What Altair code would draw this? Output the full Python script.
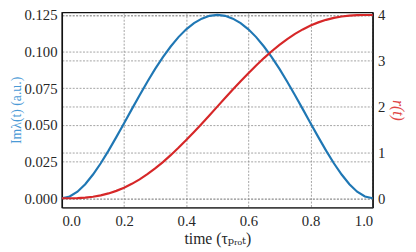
import altair as alt
import pandas as pd

t_vals = [0.000, 0.025, 0.050, 0.075, 0.100, 0.125, 0.150, 0.175, 0.200, 0.225,
          0.250, 0.275, 0.300, 0.325, 0.350, 0.375, 0.400, 0.425, 0.450, 0.475,
          0.500, 0.525, 0.550, 0.575, 0.600, 0.625, 0.650, 0.675, 0.700, 0.725,
          0.750, 0.775, 0.800, 0.825, 0.850, 0.875, 0.900, 0.925, 0.950, 0.975,
          1.000]

im_lambda = [0.0000, 0.0012, 0.0045, 0.0096, 0.0162, 0.0239, 0.0325, 0.0417, 0.0512, 0.0608,
             0.0703, 0.0795, 0.0882, 0.0963, 0.1035, 0.1099, 0.1152, 0.1194, 0.1225, 0.1244,
             0.1250, 0.1244, 0.1225, 0.1194, 0.1152, 0.1099, 0.1035, 0.0963, 0.0882, 0.0795,
             0.0703, 0.0608, 0.0512, 0.0417, 0.0325, 0.0239, 0.0162, 0.0096, 0.0045, 0.0012,
             0.0000]

r_vals = [0.0000, 0.0006, 0.0046, 0.0150, 0.0342, 0.0642, 0.1064, 0.1620, 0.2317, 0.3157,
          0.4141, 0.5265, 0.6523, 0.7907, 0.9407, 1.1008, 1.2698, 1.4459, 1.6275, 1.8128,
          2.0000, 2.1872, 2.3725, 2.5541, 2.7302, 2.8992, 3.0593, 3.2093, 3.3477, 3.4735,
          3.5859, 3.6843, 3.7683, 3.8380, 3.8936, 3.9358, 3.9658, 3.9850, 3.9954, 3.9994,
          4.0000]

x_ticks = [0.0, 0.2, 0.4, 0.6, 0.8, 1.0]
left_ticks = [0.000, 0.025, 0.050, 0.075, 0.100, 0.125]
right_ticks = [0, 1, 2, 3, 4]

df = pd.DataFrame({"t": t_vals, "im": im_lambda, "r": r_vals})

FONT = "Liberation Serif, DejaVu Serif, Times New Roman, serif"
grid_style = dict(grid=True, gridColor="#8a8a8a", gridDash=[2, 1.5], gridWidth=0.8)

x_enc = alt.X(
    "t:Q",
    scale=alt.Scale(domain=[0, 1], nice=False, zero=False),
    axis=alt.Axis(
        values=x_ticks, format=".1f", title="time (τₚᵣₒₜ)",
        ticks=False, labelPadding=6, titlePadding=3,
        domainColor="#555555", domainWidth=1.6,
        labelFont=FONT, labelFontSize=15, labelColor="#262626",
        titleFont=FONT, titleFontSize=16, titleFontWeight="normal", titleColor="#262626",
        **grid_style,
    ),
)

blue = alt.Chart(df).mark_line(color="#1f77b4", strokeWidth=2.2).encode(
    x=x_enc,
    y=alt.Y(
        "im:Q",
        scale=alt.Scale(domain=[-0.00625, 0.12677], nice=False, zero=False),
        axis=alt.Axis(
            orient="left", values=left_ticks, format=".3f", title="Imλ(t) (a.u.)",
            ticks=False, labelPadding=5, titlePadding=1,
            domainColor="#111111", domainWidth=1.3,
            labelFont=FONT, labelFontSize=15, labelColor="#262626",
            titleFont=FONT, titleFontSize=14, titleFontWeight="normal", titleColor="#4a9ad6",
            **grid_style,
        ),
    ),
)

red = alt.Chart(df).mark_line(color="#d62728", strokeWidth=2.2).encode(
    x=x_enc,
    y=alt.Y(
        "r:Q",
        scale=alt.Scale(domain=[-0.2, 4.0567], nice=False, zero=False),
        axis=alt.Axis(
            orient="right", values=right_ticks, format="d", title="r(t)",
            ticks=False, labelPadding=5, titlePadding=5,
            domainColor="#111111", domainWidth=1.3,
            labelFont=FONT, labelFontSize=15, labelColor="#262626",
            titleFont=FONT, titleFontSize=16, titleFontWeight="normal",
            titleFontStyle="italic", titleColor="#e04545",
            **grid_style,
        ),
    ),
)

chart = (
    alt.layer(blue, red)
    .resolve_scale(y="independent")
    .properties(
        width=317, height=199,
        padding={"left": 55, "top": 2, "right": 36, "bottom": 44},
        autosize=alt.AutoSizeParams(type="none"),
    )
    .configure_view(stroke="#111111", strokeWidth=1.3)
)

chart.save("out.html", embed_options={"renderer": "svg", "actions": False})
